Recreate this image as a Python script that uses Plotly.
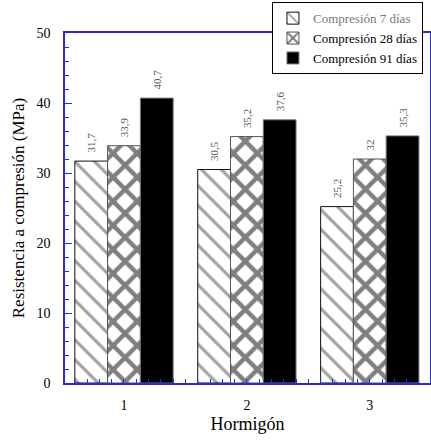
import plotly.graph_objects as go

categories = [1, 2, 3]
cat_labels = ["1", "2", "3"]
series_names = ["Compresión 7 días", "Compresión 28 días", "Compresión 91 días"]
v7 = [31.7, 30.5, 25.2]
v28 = [33.9, 35.2, 32.0]
v91 = [40.7, 37.6, 35.3]

FONT = "Liberation Serif"

def fmt(v):
    return "\u00a0\u00a0" + ("%g" % v).replace(".", ",")

label_font = dict(family=FONT, size=11, color="#555555")

fig = go.Figure()
fig.add_trace(go.Bar(
    x=categories, y=v7, name="<span style='color:#777777'>" + series_names[0] + "</span>",
    text=[fmt(v) for v in v7], textposition="outside", textangle=-90,
    textfont=label_font,
    marker=dict(color="white", line=dict(color="#111111", width=1),
                pattern=dict(shape="\\", fgcolor="#444444", bgcolor="white", size=14, solidity=0.22)),
    cliponaxis=False,
))
fig.add_trace(go.Bar(
    x=categories, y=v28, name=series_names[1],
    text=[fmt(v) for v in v28], textposition="outside", textangle=-90,
    textfont=label_font,
    marker=dict(color="white", line=dict(color="#555555", width=1),
                pattern=dict(shape="x", fgcolor="black", bgcolor="white", size=17, solidity=0.45)),
    cliponaxis=False,
))
fig.add_trace(go.Bar(
    x=categories, y=v91, name=series_names[2],
    text=[fmt(v) for v in v91], textposition="outside", textangle=-90,
    textfont=label_font,
    marker=dict(color="black", line=dict(color="#777777", width=1)),
    cliponaxis=False,
))

axis_color = "#2a2ad8"
fig.update_layout(
    width=431, height=441,
    margin=dict(l=65, r=1, t=33, b=58, autoexpand=False),
    paper_bgcolor="white", plot_bgcolor="white",
    barmode="group", bargap=0.2, bargroupgap=0,
    font=dict(family=FONT, color="black", size=13),
    showlegend=True,
    legend=dict(x=0.567, y=1.088, xanchor="left", yanchor="top",
                bgcolor="white", bordercolor="black", borderwidth=1,
                font=dict(family=FONT, size=13, color="black"),
                tracegroupgap=0, itemwidth=30),
    xaxis=dict(range=[0.52, 3.49], tickvals=categories, ticktext=cat_labels,
               automargin=False,
               showgrid=False, zeroline=False,
               showline=True, linecolor=axis_color, linewidth=1.5, mirror=True,
               ticks="", tickfont=dict(family=FONT, size=14, color="black"),
               ticklabelstandoff=8,
               minor=dict(dtick=0.1, tick0=0.5, ticks="inside", ticklen=4, tickcolor=axis_color),
               title=dict(text="Hormigón", font=dict(family=FONT, size=18, color="black"), standoff=6)),
    yaxis=dict(range=[0, 50], dtick=10, showgrid=False, zeroline=False,
               automargin=False,
               showline=True, linecolor=axis_color, linewidth=1.5, mirror=True,
               ticks="inside", ticklen=7, tickcolor=axis_color,
               tickfont=dict(family=FONT, size=14, color="black"),
               ticklabelstandoff=10,
               minor=dict(dtick=2, ticks="inside", ticklen=4, tickcolor=axis_color),
               title=dict(text="Resistencia a compresión (MPa)", font=dict(family=FONT, size=17, color="black"), standoff=8)),
)

fig.write_html("out.html", config={"displayModeBar": False},
               post_script="document.body.style.margin='0';")
